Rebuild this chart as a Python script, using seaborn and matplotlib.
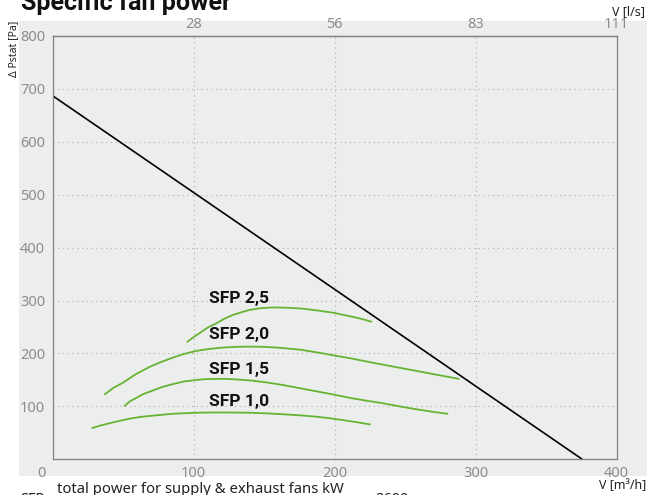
import matplotlib
matplotlib.use("Agg")
import matplotlib.pyplot as plt
import seaborn as sns
import pandas as pd
from matplotlib.patches import Rectangle

# ---------------- data ----------------
curve_names = ["SFP 1,0", "SFP 1,5", "SFP 2,0", "SFP 2,5"]

sfp10_x = [28, 34, 40, 48, 55, 62, 69, 77, 85, 93, 102, 111, 120, 130, 140, 152, 164, 176, 187, 197, 206, 216, 225]
sfp10_y = [59, 64, 68, 73, 77, 80, 82, 84, 86, 87, 88, 88.4, 88.5, 88.3, 88, 86.8, 85, 83, 80.5, 77.5, 74, 70, 66]

sfp15_x = [51, 55, 60, 64, 69, 77, 85, 93, 102, 108, 115, 122, 130, 140, 150, 163, 176, 188, 200, 211, 222, 234, 246, 258, 269, 280]
sfp15_y = [101, 110, 117, 123, 128, 136, 142, 147, 150, 151.5, 152, 152, 151, 149, 146, 140.5, 134, 128, 122, 116, 111, 106, 100, 94.5, 90, 86]

sfp20_x = [37, 43, 50, 59, 69, 77, 85, 93, 102, 111, 120, 130, 140, 150, 160, 168, 176, 184, 192, 201, 211, 228, 246, 257, 268, 275, 282, 288]
sfp20_y = [123, 135, 145, 161, 175, 184, 192, 199, 205, 208.5, 211, 212.5, 213, 212.5, 211, 209, 207, 203.5, 200, 195.5, 191, 182, 173, 167.5, 162, 158.5, 155, 152]

sfp25_x = [95.5, 100, 105, 110, 116, 122, 128, 134, 139, 147, 156, 166, 176, 187, 199, 207, 215, 221, 226]
sfp25_y = [222, 231, 240, 249, 257, 266, 273, 278, 282, 285.5, 287, 286.5, 285, 281.5, 277, 272.5, 268, 264, 260]

limit_x = [0, 375.6]
limit_y = [687, 0]

x_ticks = [100, 200, 300, 400]
x_tick_labels = ["100", "200", "300", "400"]
y_ticks = [100, 200, 300, 400, 500, 600, 700, 800]
y_tick_labels = ["100", "200", "300", "400", "500", "600", "700", "800"]
top_tick_labels = ["28", "56", "83", "111"]

# ---------------- style ----------------
BG = "#eceeed"
GREEN = "#66b332"
GRAY_TXT = "#8c8c8c"
SPINE = "#808080"
BOLD_FAMILY = ["Roboto", "DejaVu Sans"]

sns.set_theme(style="white")
plt.rcParams["font.family"] = ["Noto Sans", "DejaVu Sans"]

W, H = 647, 495
fig = plt.figure(figsize=(W / 100, H / 100), dpi=100)
fig.patch.set_facecolor("white")
fig.patches.append(Rectangle((19 / W, 1 - 476 / H), 1 - 19 / W, (476 - 21) / H,
                             transform=fig.transFigure, facecolor=BG,
                             edgecolor="none", zorder=-10))

ax_l, ax_r, ax_t, ax_b = 52.7, 616.7, 36.0, 459.3
ax = fig.add_axes([ax_l / W, 1 - ax_b / H, (ax_r - ax_l) / W, (ax_b - ax_t) / H])
ax.set_facecolor(BG)

df = pd.concat([
    pd.DataFrame({"x": sfp10_x, "y": sfp10_y, "curve": curve_names[0]}),
    pd.DataFrame({"x": sfp15_x, "y": sfp15_y, "curve": curve_names[1]}),
    pd.DataFrame({"x": sfp20_x, "y": sfp20_y, "curve": curve_names[2]}),
    pd.DataFrame({"x": sfp25_x, "y": sfp25_y, "curve": curve_names[3]}),
], ignore_index=True)

sns.lineplot(data=df, x="x", y="y", hue="curve", palette=[GREEN] * 4,
             estimator=None, sort=False, legend=False, lw=1.3, ax=ax, zorder=3)
sns.lineplot(x=limit_x, y=limit_y, color="black", lw=1.2, ax=ax, zorder=4)

ax.set_xlim(0, 400)
ax.set_ylim(0, 800)
ax.set_xlabel("")
ax.set_ylabel("")
ax.set_xticks(x_ticks, labels=x_tick_labels)
ax.set_yticks(y_ticks, labels=y_tick_labels)
ax.tick_params(axis="both", length=0, labelsize=10.5, labelcolor=GRAY_TXT)
ax.tick_params(axis="x", pad=5)
ax.tick_params(axis="y", pad=5.5)
ax.grid(True, color="#aeb0af", linestyle=(0, (1, 3.3)), lw=0.8)
for s in ax.spines.values():
    s.set_visible(True)
    s.set_color(SPINE)
    s.set_linewidth(0.9)
    s.set_zorder(5)

# "0" label at origin, shifted left as in reference
ax.annotate("0", xy=(0, 0), xytext=(-11, -7), textcoords="offset pixels",
            ha="center", va="top", fontsize=10.5, color=GRAY_TXT,
            annotation_clip=False)

top = ax.secondary_xaxis("top")
top.set_xticks(x_ticks, labels=top_tick_labels)
top.tick_params(length=0, labelsize=10.5, labelcolor=GRAY_TXT, pad=3)
top.spines["top"].set_color(SPINE)
top.spines["top"].set_linewidth(0.9)

# curve labels
label_x = 111
label_y = {"SFP 1,0": 110, "SFP 1,5": 169, "SFP 2,0": 235, "SFP 2,5": 304}
for name in curve_names:
    ax.text(label_x, label_y[name], name, fontsize=12.5, fontweight="bold",
            family=BOLD_FAMILY, color="#111111", ha="left", va="center",
            zorder=6)

# figure texts
fig.text(21 / W, 1 - 10 / H, "Specific fan power", fontsize=18,
         fontweight="bold", family=BOLD_FAMILY, color="#111111",
         ha="left", va="baseline")
fig.text(645 / W, 1 - 12 / H, "V [l/s]", fontsize=9, color="#222222",
         ha="right", va="center")
fig.text(646 / W, 1 - 486 / H, "V [m³/h]", fontsize=9, color="#222222",
         ha="right", va="center")
fig.text(13.5 / W, 1 - 21 / H, "Δ Pstat [Pa]", rotation=90, fontsize=7.5,
         color="#222222", ha="center", va="top")
fig.text(57 / W, 1 - 493 / H, "total power for supply & exhaust fans kW",
         fontsize=10.7, color="#222222", ha="left", va="baseline")
fig.text(20 / W, 1 - 492 / H, "SFP", fontsize=10.5, color="#222222",
         ha="left", va="top")
fig.text(375 / W, 1 - 492 / H, "3600", fontsize=10.5, color="#222222",
         ha="left", va="top")

fig.savefig("out.png", dpi=100)
